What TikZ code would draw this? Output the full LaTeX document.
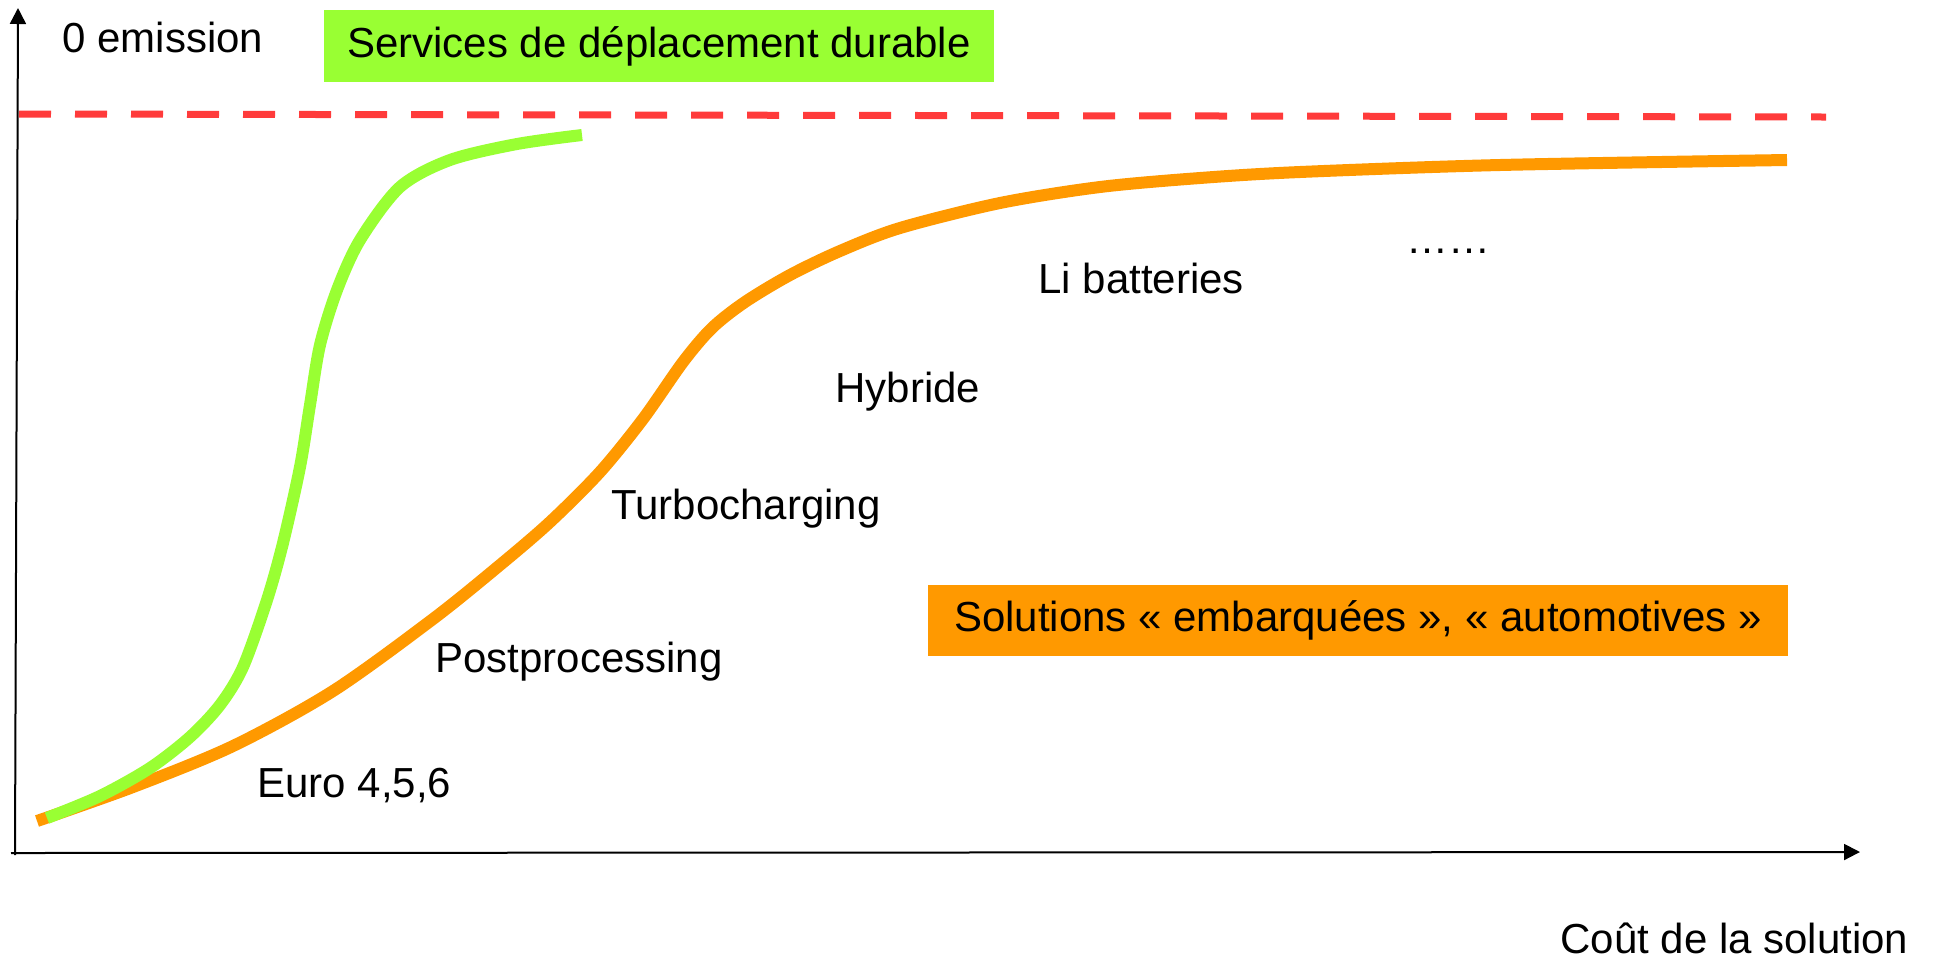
\documentclass[tikz,border=0pt]{standalone}
\usepackage{fontspec}
\setmainfont{Liberation Sans}
\usetikzlibrary{arrows.meta}
\definecolor{limegreen}{RGB}{153,255,51}
\definecolor{amber}{RGB}{255,153,0}
\definecolor{limitred}{RGB}{255,59,59}
\tikzset{
  axis/.style={line width=1pt,-{Triangle[length=8pt,width=8pt]}},
  label/.style={anchor=west,inner sep=0pt,font=\fontsize{21}{25}\selectfont},
  tag/.style={inner sep=0pt,font=\fontsize{21}{25}\selectfont},
  curve/.style={line width=6pt,line cap=butt,line join=round},
}
\begin{document}
\begin{tikzpicture}[x=0.5pt,y=-0.5pt]
\useasboundingbox (0,0) rectangle (1937,960);

% axes
\coordinate (o) at (15,855);
\coordinate (ytop) at (18,8);
\coordinate (xstart) at (11,853);
\coordinate (xend) at (1860,852);
\draw[axis] (o) -- (ytop);
\draw[axis] (xstart) -- (xend);

% zero-emission limit
\coordinate (lim1) at (19,114);
\coordinate (lim2) at (1826,117);
\draw[limitred,line width=3.5pt,dash pattern=on 16pt off 12pt] (lim1) -- (lim2);

% on-board solutions curve
\draw[curve,amber] plot[smooth,tension=0.5] coordinates {
  (37,821) (133,787) (233,746) (333,691) (433,619) (500,565)
  (550,522) (600,472) (643,419) (683,362) (712,328) (745,302)
  (790,275) (840,251) (900,228) (1000,203) (1100,187) (1200,178)
  (1300,172) (1500,165) (1787,160)};

% mobility services curve
\draw[curve,limegreen] plot[smooth,tension=0.5] coordinates {
  (47,818) (100,796) (150,768) (190,737) (220,705) (243,667)
  (267,600) (283,543) (300,467) (310,405) (320,345) (337,290)
  (360,240) (400,187) (450,160) (517,144) (582,135)};

% boxed labels
\node[tag,fill=limegreen,minimum width=335pt,minimum height=36pt] (services) at (659,46)
  {Services de déplacement durable};
\node[tag,fill=amber,minimum width=430pt,minimum height=35.5pt] (embarquees) at (1358,620)
  {Solutions « embarquées », « automotives »};

% text labels
\node[label] (zero) at (62,37) {0 emission};
\node[label] (li) at (1038,278) {Li batteries};
\node[label] (dots) at (1406,251) {……};
\node[label] (hyb) at (835,392) {Hybride};
\node[label] (turbo) at (611,509) {Turbocharging};
\node[label] (post) at (435,662) {Postprocessing};
\node[label] (euro) at (257,786) {Euro 4,5,6};
\node[label] (cost) at (1560,938) {Coût de la solution};
\end{tikzpicture}
\end{document}
